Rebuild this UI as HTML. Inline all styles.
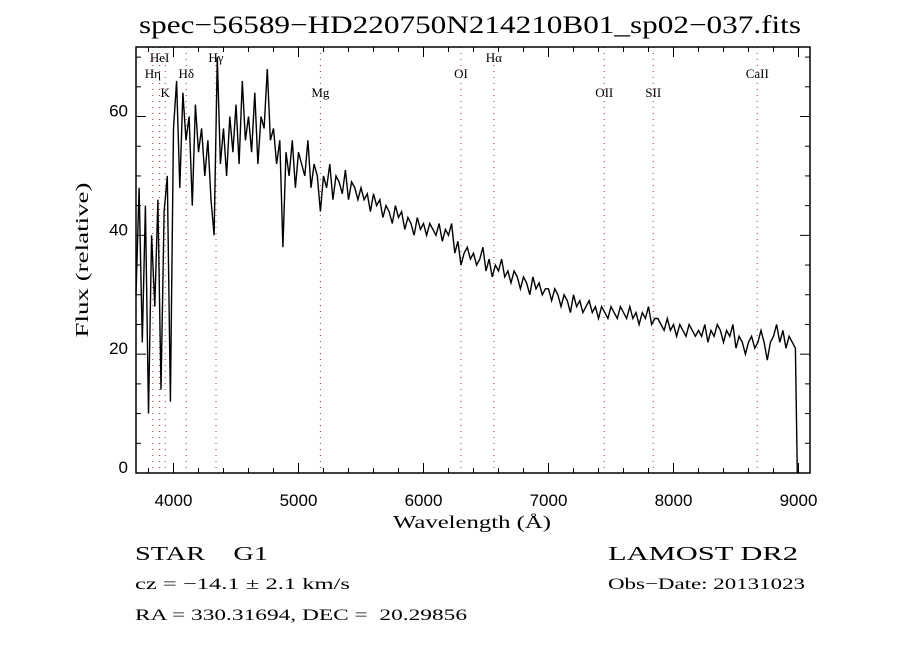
<!DOCTYPE html>
<html><head><meta charset="utf-8">
<style>
html,body{margin:0;padding:0;background:#fff;}
svg{display:block;}
text{fill:#000;white-space:pre;}
</style></head>
<body>
<svg id="chart" width="900" height="650" xmlns="http://www.w3.org/2000/svg" xml:space="preserve">
<rect width="900" height="650" fill="#fff"/>
<text x="470" y="33" font-family="Liberation Serif, serif" font-size="25" text-anchor="middle" textLength="662" lengthAdjust="spacingAndGlyphs">spec−56589−HD220750N214210B01_sp02−037.fits</text>
<g id="lines"></g>
<g id="spec"></g>
<g id="axes"></g>
<text x="472" y="528" font-family="Liberation Serif, serif" font-size="18" text-anchor="middle" textLength="158" lengthAdjust="spacingAndGlyphs">Wavelength (Å)</text>
<text transform="translate(88,260) rotate(-90)" font-family="Liberation Serif, serif" font-size="18" text-anchor="middle" textLength="155" lengthAdjust="spacingAndGlyphs">Flux (relative)</text>
<text x="135" y="560" font-family="Liberation Serif, serif" font-size="20" textLength="133" lengthAdjust="spacingAndGlyphs">STAR    G1</text>
<text x="608" y="560" font-family="Liberation Serif, serif" font-size="20" textLength="190" lengthAdjust="spacingAndGlyphs">LAMOST DR2</text>
<text x="135" y="589" font-family="Liberation Serif, serif" font-size="16" textLength="215" lengthAdjust="spacingAndGlyphs">cz = −14.1 ± 2.1 km/s</text>
<text x="608" y="589" font-family="Liberation Serif, serif" font-size="16" textLength="197" lengthAdjust="spacingAndGlyphs">Obs−Date: 20131023</text>
<text x="135" y="620" font-family="Liberation Serif, serif" font-size="16" textLength="332" lengthAdjust="spacingAndGlyphs">RA = 330.31694, DEC =  20.29856</text>
</svg>
<script>
const xTicks = [4000,5000,6000,7000,8000,9000];
const yTicks = [0,20,40,60];
const lineNames = ["HeI","Hη","K","Hδ","Hγ","Mg","OI","Hα","OII","SII","CaII"];
const lineWaves = [3889,3835,3934,4102,4340,5175,6300,6563,7446,7838,8670];
const lineRows = [0,1,2,1,0,2,1,0,2,2,1];
const waveStart = 3700;
const waveStep = 25;
const flux = [
30,48,22,45,10,40,28,46,14,44,50,12,
58,66,48,64,56,60,45,62,54,58,50,56,
46,40,70,52,58,50,60,54,62,52,66,56,
60,54,64,52,60,58,68,56,58,52,56,38,
54,50,56,48,54,52,50,56,48,52,50,44,
50,48,52,46,50,49,47,51,46,49,48,46,
48,46,47,44,47,45,46,43,45,44,42,45,
43,44,41,43,42,40,43,41,42,40,42,41,
40,42,39,41,40,42,37,39,35,37,38,36,
37,35,36,38,34,36,33,35,34,36,33,34,
32,34,33,31,33,32,30,33,31,32,30,31,
31,29,31,30,28,30,29,27,30,28,29,27,
28,29,27,28,26,28,27,26,28,27,26,28,
27,26,28,26,27,25,27,26,28,25,26,26,
25,24,26,24,25,23,25,24,23,25,24,23,
24,23,25,22,24,23,25,24,22,24,23,25,
21,23,22,20,22,23,21,22,24,22,19,22,
23,25,22,24,21,23,22,21,0];

const L=136,R=810,T=47,B=473, X0=3700,X1=9092, Y0=0,Y1=71.7;
const sx=w=>L+(w-X0)/(X1-X0)*(R-L);
const sy=f=>B-(f-Y0)/(Y1-Y0)*(B-T);
const NS="http://www.w3.org/2000/svg";
function mk(tag,attrs,parent){const e=document.createElementNS(NS,tag);for(const k in attrs)e.setAttribute(k,attrs[k]);parent.appendChild(e);return e;}
const gl=document.getElementById('lines'),gs=document.getElementById('spec'),ga=document.getElementById('axes');

const rowY=[62,78,97];
lineWaves.forEach((w,i)=>{
  const x=sx(w);
  const ln=mk('line',{x1:x,x2:x,y1:T,y2:B,stroke:'#a03030','stroke-width':1,'stroke-dasharray':'1 5'},gl);
  
  
  const t=mk('text',{x:x,y:rowY[lineRows[i]],'font-family':'Liberation Serif, serif','font-size':13,'text-anchor':'middle'},gl);
  t.textContent=lineNames[i];
  
  
});

let d='';
flux.forEach((f,i)=>{const w=waveStart+i*waveStep;const x=Math.min(sx(Math.min(w,8990)),R);d+=(i?'L':'M')+x.toFixed(1)+' '+sy(Math.max(Y0,Math.min(f,Y1))).toFixed(1);});
const p=mk('path',{d:d,fill:'none',stroke:'#000','stroke-width':1.4,'stroke-linejoin':'miter'},gs);



const fr=mk('rect',{x:L,y:T,width:R-L,height:B-T,fill:'none',stroke:'#000','stroke-width':1.5},ga);


for(let w=3800;w<=X1;w+=200){
  const x=sx(w);const major=w%1000===0;const len=major?10:5;
  mk('line',{x1:x,x2:x,y1:B,y2:B-len,stroke:'#000','stroke-width':1},ga);
  mk('line',{x1:x,x2:x,y1:T,y2:T+len,stroke:'#000','stroke-width':1},ga);
}
xTicks.forEach(w=>{
  const t=mk('text',{x:sx(w),y:B+33,'font-family':'Liberation Sans, sans-serif','font-size':17,'text-anchor':'middle'},ga);
  t.textContent=w;
  
  
});
for(let f=0;f<=Y1;f+=5){
  const y=sy(f);const major=f%20===0;const len=major?10:5;
  mk('line',{x1:L,x2:L+len,y1:y,y2:y,stroke:'#000','stroke-width':1},ga);
  mk('line',{x1:R,x2:R-len,y1:y,y2:y,stroke:'#000','stroke-width':1},ga);
}
yTicks.forEach(f=>{
  const t=mk('text',{x:L-8,y:sy(f),'font-family':'Liberation Sans, sans-serif','font-size':17,'text-anchor':'end'},ga);
  t.textContent=f;
  
  
});
</script>
</body></html>
